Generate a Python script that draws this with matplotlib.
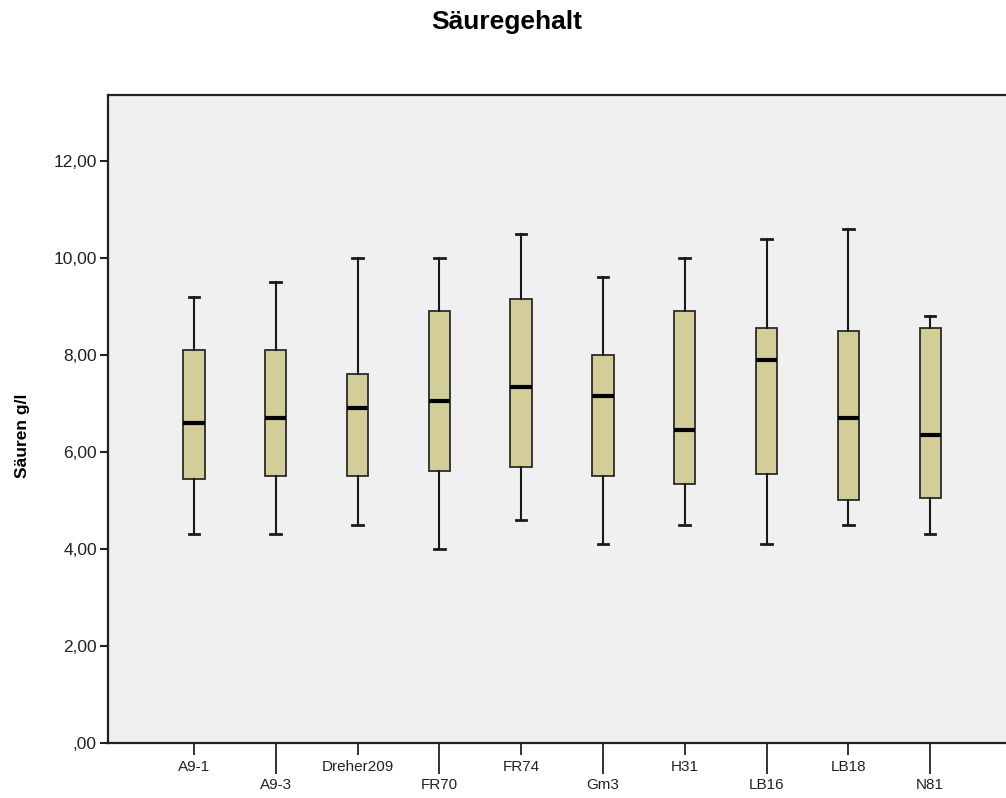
import matplotlib
matplotlib.use("Agg")
import matplotlib.pyplot as plt
from matplotlib.ticker import FixedLocator, FixedFormatter

plt.rcParams['font.family'] = ['Liberation Sans', 'DejaVu Sans']

sorten = ["A9-1", "A9-3", "Dreher209", "FR70", "FR74", "Gm3", "H31", "LB16", "LB18", "N81"]
minimum = [4.3, 4.3, 4.5, 4.0, 4.6, 4.1, 4.5, 4.1, 4.5, 4.3]
q1 = [5.45, 5.5, 5.5, 5.6, 5.7, 5.5, 5.35, 5.55, 5.0, 5.05]
median = [6.6, 6.7, 6.9, 7.05, 7.35, 7.15, 6.45, 7.9, 6.7, 6.35]
q3 = [8.1, 8.1, 7.6, 8.9, 9.15, 8.0, 8.9, 8.55, 8.5, 8.55]
maximum = [9.2, 9.5, 10.0, 10.0, 10.5, 9.6, 10.0, 10.4, 10.6, 8.8]
y_ticks = [0, 2, 4, 6, 8, 10, 12]
y_tick_labels = [",00", "2,00", "4,00", "6,00", "8,00", "10,00", "12,00"]

stats = [
    dict(label=s, whislo=lo, q1=a, med=m, q3=b, whishi=hi, fliers=[])
    for s, lo, a, m, b, hi in zip(sorten, minimum, q1, median, q3, maximum)
]

W, H = 1006, 798
fig = plt.figure(figsize=(W / 100, H / 100), dpi=100)
ax = fig.add_axes([108 / W, 55 / H, 1.0 - 108 / W + 0.01, 648 / H])
ax.set_facecolor("#f0f0f0")

positions = list(range(len(sorten)))
ax.bxp(
    stats, positions=positions, widths=0.26, patch_artist=True,
    showfliers=False,
    boxprops=dict(facecolor="#d3ce97", edgecolor="#2b2b2b", linewidth=1.3),
    medianprops=dict(color="black", linewidth=3.0),
    whiskerprops=dict(color="#1a1a1a", linewidth=1.5),
    capprops=dict(color="#1a1a1a", linewidth=2.0),
    capwidths=0.13,
)

ax.set_xlim(-1.05, 10.05)
ax.set_ylim(0, 13.36)

ax.set_yticks(y_ticks)
ax.set_yticklabels(y_tick_labels, fontsize=12.5, color="#222222")
ax.tick_params(axis="y", direction="out", length=6, width=1.5, color="#222222", pad=2)

# alternate category labels between two rows
even = positions[0::2]
odd = positions[1::2]
ax.xaxis.set_major_locator(FixedLocator(even))
ax.xaxis.set_major_formatter(FixedFormatter([sorten[i] for i in even]))
ax.xaxis.set_minor_locator(FixedLocator(odd))
ax.xaxis.set_minor_formatter(FixedFormatter([sorten[i] for i in odd]))
ax.tick_params(axis="x", which="major", direction="out", length=8.5, width=1.3,
               color="#222222", labelsize=11, labelcolor="#222222", pad=3.5)
ax.tick_params(axis="x", which="minor", direction="out", length=22, width=1.3,
               color="#222222", labelsize=11, labelcolor="#222222", pad=3)

for side in ("left", "bottom", "top"):
    ax.spines[side].set_linewidth(1.6)
    ax.spines[side].set_color("#222222")
ax.spines["right"].set_visible(False)

fig.text(23 / W, 1 - 436 / H, "Säuren g/l", rotation=90, ha="center", va="center",
         fontsize=12.5, fontweight="bold")
fig.text(507 / W, 1 - 22 / H, "Säuregehalt", ha="center", va="center",
         fontsize=19, fontweight="bold")

fig.savefig("out.png", dpi=100)
